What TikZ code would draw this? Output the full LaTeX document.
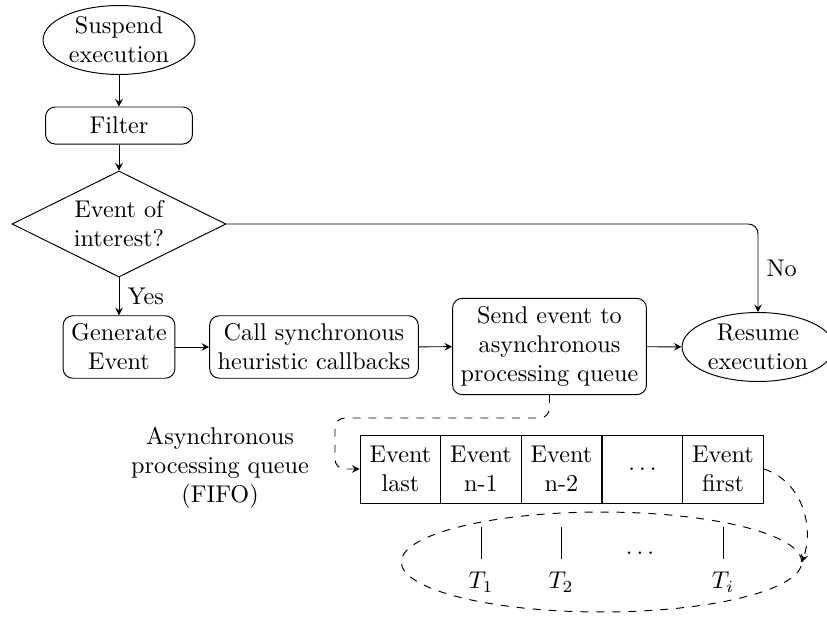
\documentclass[tikz,border=0pt]{standalone}
\usetikzlibrary{shapes.geometric,arrows}
\begin{document}
\begin{tikzpicture}[x=0.41322pt, y=-0.41322pt, >=stealth, line width=0.4pt,
  termbox/.style={draw, ellipse, align=center, inner xsep=1.5pt, inner ysep=0pt, minimum width=62pt, minimum height=28.5pt},
  procbox/.style={draw, rounded corners=4pt, align=center},
  decbox/.style={draw, diamond, aspect=2, align=center, inner sep=0pt, minimum width=88.4pt, minimum height=43.8pt},
  cellbox/.style={draw, rectangle, align=center, minimum width=33.4pt, minimum height=28.1pt, inner sep=0pt},
  flow/.style={->},
  dflow/.style={->, dash pattern=on 3.3pt off 3.3pt}]
\useasboundingbox (0,0) rectangle (827,618);
\fill[white] (0,0) rectangle (827,618);

\node[termbox] (susp) at (119,40) {Suspend\\execution};
\node[procbox, minimum width=60.7pt, minimum height=15.3pt] (filt) at (119,125.5) {Filter};
\node[decbox] (dec) at (119,224) {Event of\\interest?};
\node[procbox] (gen) at (119,347) {Generate\\Event};
\node[procbox] (call) at (314,347) {Call synchronous\\heuristic callbacks};
\node[procbox] (send) at (549.5,346.5) {Send event to\\asynchronous\\processing queue};
\node[termbox] (res) at (758,347) {Resume\\execution};

\draw[flow] (susp) -- (filt);
\draw[flow] (filt) -- (dec);
\draw[flow] (dec) -- node[right, pos=0.5] {Yes} (gen);
\draw[flow] (gen) -- (call);
\draw[flow] (call) -- (send);
\draw[flow] (send) -- (res);
\draw[flow, rounded corners=4pt] (dec.east) -| node[right, pos=0.75] {No} (res.north);

\node[align=center] (qlabel) at (220,468) {Asynchronous\\processing queue\\(FIFO)};

\node[cellbox] (q1) at (400.5,469) {Event\\last};
\node[cellbox] (q2) at (481,469) {Event\\n-1};
\node[cellbox] (q3) at (561.5,469) {Event\\n-2};
\node[cellbox] (q4) at (642.5,469) {$\ldots$};
\node[cellbox] (q5) at (723,469) {Event\\first};

\coordinate (qturn) at (335,418);
\draw[dflow, rounded corners=4pt] (send.south) |- (qturn) |- (q1.west);

\node[draw, dash pattern=on 3.3pt off 3.3pt, ellipse, minimum width=165.5pt, minimum height=41.3pt, inner sep=0pt] (thr) at (601.5,562) {};
\draw[dflow] (q5.east) to[out=-18, in=72] (thr.east);

\coordinate (l1a) at (481,527); \coordinate (l1b) at (481,559);
\coordinate (l2a) at (561,527); \coordinate (l2b) at (561,559);
\coordinate (l3a) at (723,527); \coordinate (l3b) at (723,559);
\draw (l1a) -- (l1b);
\draw (l2a) -- (l2b);
\draw (l3a) -- (l3b);
\node (t1) at (481,582) {$T_1$};
\node (t2) at (561,582) {$T_2$};
\node (ti) at (723,582) {$T_i$};
\node (tdots) at (640,553) {$\ldots$};
\end{tikzpicture}
\end{document}
